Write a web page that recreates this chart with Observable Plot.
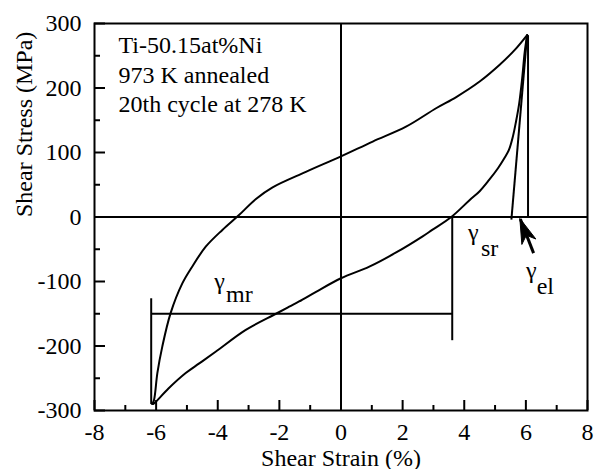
<!DOCTYPE html>
<html>
<head>
<meta charset="utf-8">
<script src="https://cdn.jsdelivr.net/npm/d3@7"></script>
<script src="https://cdn.jsdelivr.net/npm/@observablehq/plot@0.6"></script>
<style>
  html, body { margin: 0; padding: 0; background: white; font-family: "Liberation Serif", serif; }
</style>
</head>
<body>
<div id="chart"></div>
<script>
// ---- data ----
const xTicks = [-8, -6, -4, -2, 0, 2, 4, 6, 8];
const xMinorTicks = [-7, -5, -3, -1, 1, 3, 5, 7];
const yTicks = [-300, -200, -100, 0, 100, 200, 300];
const yMinorTicks = [-250, -150, -50, 50, 150, 250];

// loading branch (lower curve), strain % / stress MPa
const loadX = [-6.10, -6.04, -5.60, -5.04, -4.60, -4.07, -3.09, -2.11, -1.68, -1.36, -0.81, 0.00, 0.92, 1.79, 2.65, 2.96, 3.58, 4.17, 4.50, 4.80, 5.10, 5.30, 5.45, 5.58, 5.68, 5.78, 5.88, 5.96, 6.04];
const loadY = [-290, -288, -266, -242, -227, -209, -175, -150, -139, -131, -116, -95, -77, -55, -30, -20, 0, 26, 40, 57, 76, 91, 104, 125, 148, 175, 215, 255, 282];

// unloading / reverse branch (upper curve)
const unloadX = [6.04, 5.64, 5.15, 4.50, 3.74, 3.10, 2.11, 1.03, 0.00, -1.14, -2.22, -2.76, -3.31, -3.85, -4.39, -4.83, -5.15, -5.53, -5.80, -5.96, -6.07, -6.13];
const unloadY = [282, 259, 236, 210, 186, 169, 140, 117, 94, 70, 46, 28, 3, -20, -46, -77, -103, -149, -201, -242, -284, -290];

// straight construction lines: [x1, y1, x2, y2]
const segX1 = [6.04, 6.07, -6.16, -6.16, 3.61];
const segY1 = [282, 282, -126, -150, 0];
const segX2 = [5.53, 6.07, -6.16, 3.61, 3.61];
const segY2 = [-4, 0, -290, -150, -191];

// arrow (tail -> tip)
const arrowTail = [6.25, -56];
const arrowTip = [5.82, -3];

// gamma labels
const gammaText = ["γ", "γ", "γ"];
const gammaX = [4.12, 6.00, -4.11];
const gammaY = [-36, -95, -112];
const subText = ["sr", "el", "mr"];
const subX = [4.54, 6.35, -3.73];
const subY = [-61, -120, -132];

// annotation text
const noteText = ["Ti-50.15at%Ni", "973 K annealed", "20th cycle at 278 K"];
const noteX = [-7.22, -7.22, -7.22];
const noteY = [254, 207, 163];

const xTitle = "Shear Strain (%)";
const yTitle = "Shear Stress (MPa)";

// ---- build ----
const W = 596, H = 469;
const mL = 94, mR = 9, mT = 23, mB = 59;
const plotW = W - mL - mR, plotH = H - mT - mB;
const FONT = "Liberation Serif, DejaVu Serif, serif";
const FS = 24;

const loadData = loadX.map((x, i) => ({x, y: loadY[i]}));
const unloadData = unloadX.map((x, i) => ({x, y: unloadY[i]}));
const segData = segX1.map((x1, i) => ({x1, y1: segY1[i], x2: segX2[i], y2: segY2[i]}));
const gammaData = gammaText.map((t, i) => ({t, x: gammaX[i], y: gammaY[i]}));
const subData = subText.map((t, i) => ({t, x: subX[i], y: subY[i]}));
const noteData = noteText.map((t, i) => ({t, x: noteX[i], y: noteY[i]}));

const txt = {fontFamily: FONT, fontSize: FS, fill: "black"};

const chart = Plot.plot({
  width: W,
  height: H,
  marginLeft: mL,
  marginRight: mR,
  marginTop: mT,
  marginBottom: mB,
  style: {fontFamily: FONT, background: "white", overflow: "visible"},
  x: {domain: [-8, 8], axis: null},
  y: {domain: [-300, 300], axis: null},
  marks: [
    Plot.axisX({ticks: xTicks, tickSize: 0, tickPadding: 12, tickFormat: d => String(d), label: null, ...txt}),
    Plot.axisY({ticks: yTicks, tickSize: 0, tickPadding: 13, tickFormat: d => String(d), label: null, ...txt}),
    Plot.ruleX([0], {stroke: "black", strokeWidth: 2}),
    Plot.ruleY([0], {stroke: "black", strokeWidth: 2}),
    Plot.tickX(xTicks, {x: d => d, insetTop: plotH - 10, stroke: "black", strokeWidth: 2}),
    Plot.tickX(xMinorTicks, {x: d => d, insetTop: plotH - 5, stroke: "black", strokeWidth: 2}),
    Plot.tickY(yTicks, {y: d => d, insetRight: plotW - 11, stroke: "black", strokeWidth: 2}),
    Plot.tickY(yMinorTicks, {y: d => d, insetRight: plotW - 6, stroke: "black", strokeWidth: 2}),
    Plot.link(segData, {x1: "x1", y1: "y1", x2: "x2", y2: "y2", stroke: "black", strokeWidth: 2}),
    Plot.line(loadData, {x: "x", y: "y", stroke: "black", strokeWidth: 2, curve: "catmull-rom"}),
    Plot.line(unloadData, {x: "x", y: "y", stroke: "black", strokeWidth: 2, curve: "catmull-rom"}),
    Plot.link([{x1: arrowTail[0], y1: arrowTail[1], x2: arrowTip[0], y2: arrowTip[1]}], {x1: "x1", y1: "y1", x2: "x2", y2: "y2", stroke: "black", strokeWidth: 3}),
    Plot.text(noteData, {x: "x", y: "y", text: "t", textAnchor: "start", lineAnchor: "bottom", ...txt}),
    Plot.text(gammaData, {x: "x", y: "y", text: "t", textAnchor: "start", lineAnchor: "bottom", ...txt}),
    Plot.text(subData, {x: "x", y: "y", text: "t", textAnchor: "start", lineAnchor: "bottom", ...txt}),
    Plot.text([xTitle], {frameAnchor: "bottom", lineAnchor: "bottom", dy: 55, ...txt}),
    Plot.text([yTitle], {frameAnchor: "left", lineAnchor: "bottom", rotate: -90, dx: -63, ...txt}),
    Plot.frame({stroke: "black", strokeWidth: 2})
  ]
});

const svgSel = d3.select(chart);
svgSel.attr("font-family", FONT);
svgSel.selectAll("text").attr("font-family", FONT);

// filled arrowhead, positioned through the plot's own scales
const sx = chart.scale("x").apply, sy = chart.scale("y").apply;
const tip = [sx(arrowTip[0]), sy(arrowTip[1])];
const tail = [sx(arrowTail[0]), sy(arrowTail[1])];
const len = Math.hypot(tail[0] - tip[0], tail[1] - tip[1]);
const u = [(tail[0] - tip[0]) / len, (tail[1] - tip[1]) / len];
const n = [-u[1], u[0]];
const headLen = 25, headHalf = 7.5, notch = 18;
const p = (a, b) => [tip[0] + a * u[0] + b * n[0], tip[1] + a * u[1] + b * n[1]];
const pts = [p(0, 0), p(headLen, headHalf), p(notch, 0), p(headLen, -headHalf)];
svgSel.append("path")
  .attr("d", "M" + pts.map(q => q.join(",")).join("L") + "Z")
  .attr("fill", "black")
  .attr("stroke", "black")
  .attr("stroke-width", 1);

document.getElementById("chart").appendChild(chart);
</script>
</body>
</html>
